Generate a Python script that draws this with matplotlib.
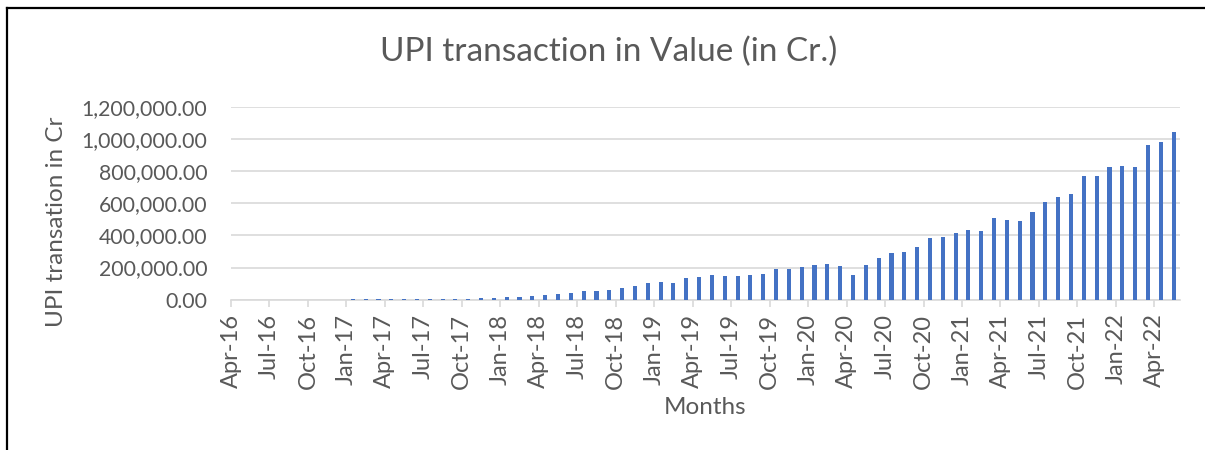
import matplotlib
matplotlib.use("Agg")
import matplotlib.pyplot as plt
from matplotlib.lines import Line2D
from matplotlib.ticker import FuncFormatter
import pandas as pd

# months Apr-16 .. May-22
meses = pd.date_range("2016-04-01", periods=74, freq="MS").strftime("%b-%y").tolist()

# UPI transaction value (Rs crore)
valores = [0, 0, 0, 0, 3.09, 32.64, 48.57, 90.12, 707.93,
           1696.22, 1937.71, 2425.14, 2271.24, 2797.06, 3098.34, 3411.27, 4156.62, 5325.8, 7057.68, 9669.33, 13174.17,
           15571.18, 19145.47, 24172.6, 27021.98, 33288.71, 40834.03, 54212.26, 54788.44, 59835.35, 74978.27, 82232.21, 102594.82,
           109932.4, 106737.12, 133460.72, 142034.39, 152449.29, 146386.6, 146387.16, 154507.11, 161456.71, 191359.94, 189229.09, 202520.76,
           216242.97, 222516.95, 206462.33, 151140.66, 218391.6, 261835.01, 290538.37, 298307.61, 329027.83, 386106.74, 390999.57, 416176.21,
           431181.89, 425062.76, 504886.44, 493663.68, 490638.64, 547373.16, 606281.14, 639116.95, 654351.81, 771444.98, 768436.37, 826848.22,
           831993.11, 826843.0, 960581.66, 983302.27, 1041520.07]

titulo = "UPI transaction in Value (in Cr.)"
ylabel = "UPI transation in Cr"
xlabel = "Months"

gris = "#595959"
plt.rcParams["font.family"] = ["Lato", "DejaVu Sans"]

fig = plt.figure(figsize=(12.05, 4.5), dpi=100)
ax = fig.add_axes([231 / 1205, 1 - 299.7 / 450, (1180 - 231) / 1205, (299.7 - 106.7) / 450])

pos = [i + 0.5 for i in range(len(valores))]
ax.bar(pos, valores, width=0.32, color="#4472C4", zorder=3)

ax.set_xlim(0, len(valores))
ax.set_ylim(0, 1200000)
ax.set_yticks(range(0, 1200001, 200000))
ax.yaxis.set_major_formatter(FuncFormatter(lambda v, p: f"{v:,.2f}"))
ax.grid(axis="y", color="#D9D9D9", lw=1.2, zorder=0)

ax.set_xticks(range(0, len(valores), 3))
ax.set_xticklabels(meses[::3], rotation=90)

for s in ["top", "right", "left"]:
    ax.spines[s].set_visible(False)
ax.spines["bottom"].set_color("#D9D9D9")
ax.spines["bottom"].set_linewidth(1.2)
ax.tick_params(axis="y", length=0, pad=17, labelsize=15.3, labelcolor=gris)
ax.tick_params(axis="x", length=5, width=1.2, color="#D9D9D9", pad=5, labelsize=17, labelcolor=gris)

fig.text(57 / 1205, 1 - 222 / 450, ylabel, fontsize=17.5, color=gris, ha="center", va="center", rotation=90)
fig.text(705 / 1205, 1 - 407 / 450, xlabel, fontsize=17.5, color=gris, ha="center", va="center")
fig.text(609 / 1205, 1 - 52 / 450, titulo, fontsize=24, color=gris, ha="center", va="center")

# chart border (only left and top visible)
fig.add_artist(Line2D([7.5 / 1205, 7.5 / 1205], [0, 1 - 8 / 450], color="black", lw=1.6, transform=fig.transFigure))
fig.add_artist(Line2D([7.5 / 1205, 1], [1 - 8 / 450, 1 - 8 / 450], color="black", lw=1.6, transform=fig.transFigure))

fig.savefig("out.png", dpi=100)
